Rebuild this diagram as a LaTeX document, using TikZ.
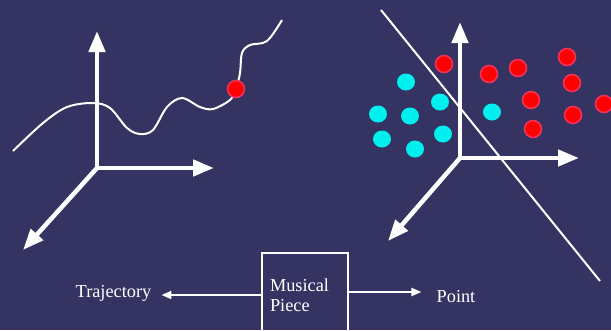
\documentclass[tikz,border=0pt]{standalone}
\usepackage{fontspec}
\setmainfont{Liberation Serif}
\usetikzlibrary{arrows.meta,shapes.geometric}
\definecolor{bgnavy}{RGB}{52,51,98}
\definecolor{dotred}{RGB}{255,0,0}
\definecolor{dotrim}{RGB}{240,50,90}
\definecolor{dotcyan}{RGB}{0,240,240}
\begin{document}
\begin{tikzpicture}[x=1pt,y=-1pt,
  axis/.style={draw=white,line width=4.5pt,-{Triangle[length=21pt,width=16pt]}},
  link/.style={draw=white,line width=2pt,-{Triangle[length=10pt,width=8pt]}},
  curve/.style={draw=white,line width=2pt},
  reddot/.style={circle,fill=dotred,draw=dotrim,line width=1.6pt,minimum size=17pt,inner sep=0pt},
  cyandot/.style={ellipse,fill=dotcyan,minimum width=18pt,minimum height=17pt,inner sep=0pt},
  label/.style={text=white,font=\fontsize{18.3}{20.5}\selectfont,inner sep=0pt}]
  \fill[bgnavy] (0,0) rectangle (611,330);
  \useasboundingbox (0,0) rectangle (611,330);
  \clip (0,0) rectangle (611,330);

  % trajectory through the left feature space
  \draw[curve] plot[smooth,tension=0.55] coordinates {
    (13,151) (43,123) (67,107) (93,103) (110,108) (127,128) (140,134)
    (153,130) (167,107) (182,98) (200,107) (213,109) (230,100) (236,89)
    (240,73) (242,53) (250,45) (267,41) (282,20)};

  % left axes
  \coordinate (O1) at (97,168);
  \coordinate (Y1) at (97,31);
  \coordinate (X1) at (214,168);
  \coordinate (Z1) at (23,250);
  \draw[axis] (O1) -- (Y1);
  \draw[axis] (O1) -- (X1);
  \draw[axis] (O1) -- (Z1);
  \node[reddot] (now) at (236,89) {};

  % separating line in the right feature space
  \coordinate (S1) at (381,10);
  \coordinate (S2) at (600,281);
  \draw[white,line width=2pt] (S1) -- (S2);

  % right axes
  \coordinate (O2) at (460,158);
  \coordinate (Y2) at (460,22);
  \coordinate (X2) at (579,158);
  \coordinate (Z2) at (388,241);
  \draw[axis] (O2) -- (Y2);
  \draw[axis] (O2) -- (X2);
  \draw[axis] (O2) -- (Z2);

  % class samples
  \foreach \n/\p in {c1/{(406,82)},c2/{(378,114)},c3/{(410,116)},c4/{(440,102)},
                     c5/{(382,139)},c6/{(415,149)},c7/{(443,134)},c8/{(492,112)}}
    \node[cyandot] (\n) at \p {};
  \foreach \n/\p in {r1/{(444,64)},r2/{(489,74)},r3/{(518,68)},r4/{(567,57)},
                     r5/{(572,83)},r6/{(531,100)},r7/{(573,115)},r8/{(604,104)},
                     r9/{(533,129)}}
    \node[reddot] (\n) at \p {};

  % bottom diagram
  \node[draw=white,line width=2pt,minimum width=86pt,minimum height=84pt,
        text width=70pt,align=left,text=white,inner sep=0pt,
        font=\fontsize{18.3}{20.5}\selectfont] (piece) at (305,295)
        {Musical\\Piece};
  \node[label] (traj) at (113.5,293) {Trajectory};
  \node[label] (point) at (456,297) {Point};
  \draw[link] (piece.west) -- ([xshift=10pt]traj.east |- piece.west);
  \draw[link] ([yshift=3pt]piece.east) -- ([xshift=-15pt,yshift=3pt]point.west |- piece.east);
\end{tikzpicture}
\end{document}
